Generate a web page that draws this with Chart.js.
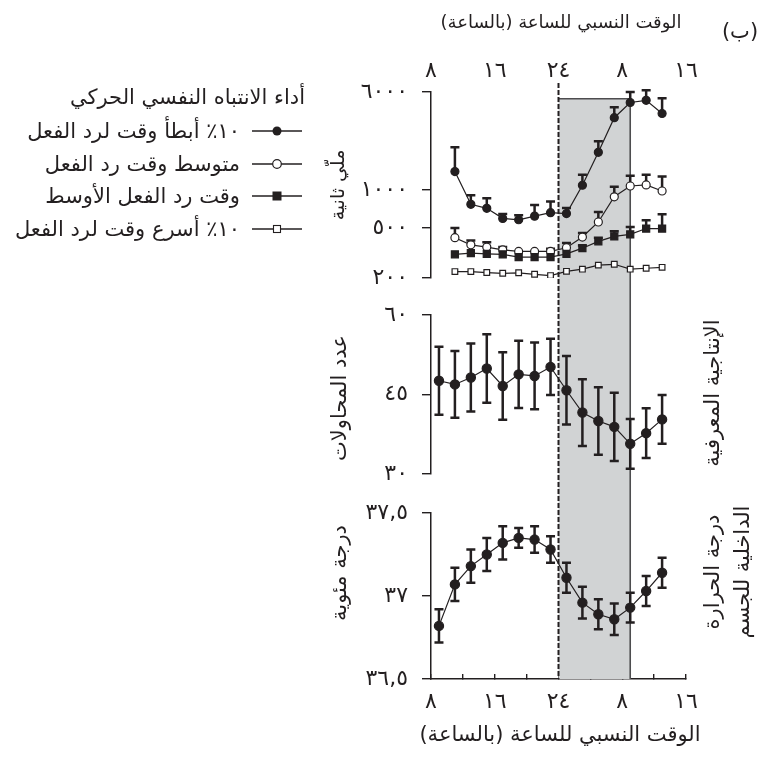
<!DOCTYPE html>
<html>
<head>
<meta charset="utf-8">
<script src="https://cdn.jsdelivr.net/npm/chart.js@4.4.1/dist/chart.umd.min.js"></script>
<style>
html, body { margin: 0; padding: 0; background: #fff; }
#wrap { position: relative; width: 770px; height: 758px; font-family: 'DejaVu Sans', sans-serif; color: #231f20; }
#wrap canvas { position: absolute; left: 0; top: 0; }
.c { position: absolute; transform: translate(-50%, -50%); white-space: nowrap; font-size: 21px; line-height: 1.2; }
.r { position: absolute; transform: translate(-50%, -50%) rotate(-90deg); white-space: nowrap; font-size: 21px; line-height: 1.45; text-align: center; }
.lg { position: absolute; right: 530px; transform: translateY(-50%); white-space: nowrap; font-size: 21px; }
.mk { position: absolute; left: 252px; transform: translateY(-50%); }
</style>
</head>
<body>
<div id="wrap">
  <canvas id="chart" width="770" height="758"></canvas>

  <div class="c" dir="rtl" style="left:740px; top:32px;">(ب)</div>
  <div class="c" dir="rtl" style="left:561px; top:22px; font-size:18px;">الوقت النسبي للساعة (بالساعة)</div>
  <div class="c" dir="rtl" style="left:560px; top:735px;">الوقت النسبي للساعة (بالساعة)</div>

  <div class="lg" dir="rtl" style="right:465px; top:97px;">أداء الانتباه النفسي الحركي</div>
  <div class="lg" dir="rtl" style="top:131px;">١٠٪ أبطأ وقت لرد الفعل</div>
  <div class="lg" dir="rtl" style="top:164px;">متوسط وقت رد الفعل</div>
  <div class="lg" dir="rtl" style="top:196px;">وقت رد الفعل الأوسط</div>
  <div class="lg" dir="rtl" style="top:229px;">١٠٪ أسرع وقت لرد الفعل</div>
  <svg class="mk" style="top:131px" width="50" height="12"><line x1="0" y1="6" x2="50" y2="6" stroke="#231f20" stroke-width="1.3"/><circle cx="25" cy="6" r="4.5" fill="#231f20"/></svg>
  <svg class="mk" style="top:164px" width="50" height="12"><line x1="0" y1="6" x2="50" y2="6" stroke="#231f20" stroke-width="1.3"/><circle cx="25" cy="6" r="4.3" fill="#fff" stroke="#231f20" stroke-width="1.2"/></svg>
  <svg class="mk" style="top:196px" width="50" height="12"><line x1="0" y1="6" x2="50" y2="6" stroke="#231f20" stroke-width="1.3"/><rect x="20.5" y="1.5" width="9" height="9" fill="#231f20"/></svg>
  <svg class="mk" style="top:229px" width="50" height="12"><line x1="0" y1="6" x2="50" y2="6" stroke="#231f20" stroke-width="1.3"/><rect x="21.5" y="2.5" width="7" height="7" fill="#fff" stroke="#231f20" stroke-width="1.1"/></svg>

  <div class="r" dir="rtl" style="left:338px; top:185px; font-size:19px;">ملّي ثانية</div>
  <div class="r" dir="rtl" style="left:339px; top:398px;">عدد المحاولات</div>
  <div class="r" dir="rtl" style="left:339px; top:573px;">درجة مئوية</div>
  <div class="r" dir="rtl" style="left:712px; top:393px;">الإنتاجية المعرفية</div>
  <div class="r" dir="rtl" style="left:727px; top:572px;">درجة الحرارة<br>الداخلية للجسم</div>
</div>

<script>
// relative clock time (hours) of each measurement
const hoursRT = [11, 13, 15, 17, 19, 21, 23, 25, 27, 29, 31, 33, 35, 37];
const hoursLong = [9, 11, 13, 15, 17, 19, 21, 23, 25, 27, 29, 31, 33, 35, 37];

// psychomotor vigilance reaction times (ms), upper error only
const slowest10 = [1400, 770, 715, 595, 580, 620, 660, 650, 1090, 1990, 3750, 4950, 5150, 4050];
const slowest10Err = [780, 140, 145, 50, 50, 140, 150, 70, 230, 445, 800, 1050, 1050, 1300];
const meanRT = [418, 367, 352, 335, 325, 325, 325, 348, 423, 557, 883, 1076, 1096, 982];
const meanRTErr = [82, 30, 33, 17, 0, 0, 16, 31, 32, 113, 178, 219, 224, 295];
const medianRT = [308, 315, 311, 308, 293, 293, 293, 311, 345, 391, 428, 444, 494, 494];
const medianRTErr = [0, 0, 0, 0, 0, 0, 0, 0, 18, 27, 43, 64, 82, 148];
const fastest10 = [225, 225, 221, 218, 220, 214, 209, 226, 235, 253, 257, 235, 239, 243];

// cognitive throughput: number of attempts
const attempts = [47.6, 46.9, 48.2, 49.9, 46.6, 48.8, 48.5, 50.2, 45.8, 41.6, 40.0, 38.9, 35.7, 37.7, 40.3];
const attemptsErr = [6.4, 6.3, 6.4, 6.45, 6.35, 6.35, 6.3, 5.3, 6.45, 6.3, 6.35, 6.45, 4.7, 4.7, 4.6];

// core body temperature (deg C)
const temperature = [36.82, 37.07, 37.18, 37.25, 37.32, 37.35, 37.34, 37.28, 37.11, 36.96, 36.89, 36.86, 36.93, 37.03, 37.14];
const temperatureErr = [0.10, 0.10, 0.10, 0.10, 0.10, 0.06, 0.08, 0.08, 0.09, 0.095, 0.09, 0.095, 0.09, 0.09, 0.09];

// ticks
const xTickHours = [8, 12, 16, 20, 24, 28, 32, 36, 40];
const xTickLabels = ['٨', '', '١٦', '', '٢٤', '', '٨', '', '١٦'];
const xTopHours = [8, 16, 24, 32, 40];
const xTopLabels = ['٨', '١٦', '٢٤', '٨', '١٦'];
const rtTicks = [200, 500, 1000, 6000];
const rtTickLabels = ['٢٠٠', '٥٠٠', '١٠٠٠', '٦٠٠٠'];
const attemptTicks = [30, 45, 60];
const attemptTickLabels = ['٣٠', '٤٥', '٦٠'];
const tempTicks = [36.5, 37, 37.5];
const tempTickLabels = ['٣٦,٥', '٣٧', '٣٧,٥'];

// shaded night (hours) and its top on the reaction-time axis (ms)
const shadeHours = [24, 33];
const shadeTopMs = 5300;

const ink = '#231f20';
const pts = (xs, ys) => xs.map((x, i) => ({x: x, y: ys[i]}));

function series(xs, ys, axis, extra) {
    return Object.assign({
        data: pts(xs, ys),
        yAxisID: axis,
        borderColor: ink,
        borderWidth: 1.2,
        pointBorderColor: ink,
        pointBackgroundColor: ink,
        pointBorderWidth: 1.2,
        pointRadius: 4,
        pointStyle: 'circle',
        tension: 0
    }, extra);
}

const shade = {
    id: 'shade',
    beforeDatasetsDraw(chart) {
        const {ctx, chartArea, scales} = chart;
        const x0 = scales.x.getPixelForValue(shadeHours[0]);
        const x1 = scales.x.getPixelForValue(shadeHours[1]);
        const yTop = scales.yRT.getPixelForValue(shadeTopMs);
        const yBot = chartArea.bottom;
        ctx.save();
        ctx.fillStyle = '#d1d3d4';
        ctx.fillRect(x0, yTop, x1 - x0, yBot - yTop);
        ctx.strokeStyle = '#4d4d4f';
        ctx.lineWidth = 1.6;
        ctx.beginPath();
        ctx.moveTo(x0, yTop);
        ctx.lineTo(x1, yTop);
        ctx.lineTo(x1, yBot);
        ctx.stroke();
        ctx.strokeStyle = ink;
        ctx.lineWidth = 2;
        ctx.setLineDash([5, 2]);
        ctx.beginPath();
        ctx.moveTo(x0, chartArea.top - 9);
        ctx.lineTo(x0, yBot);
        ctx.stroke();
        ctx.restore();
    }
};

const errorBars = {
    id: 'errorBars',
    beforeDatasetsDraw(chart) {
        const ctx = chart.ctx;
        chart.data.datasets.forEach((ds, i) => {
            if (!ds.errors) return;
            const meta = chart.getDatasetMeta(i);
            const ys = chart.scales[ds.yAxisID];
            ctx.save();
            ctx.strokeStyle = ink;
            ctx.lineWidth = 2.5;
            meta.data.forEach((p, j) => {
                const e = ds.errors[j];
                if (!e) return;
                const v = ds.data[j].y;
                const top = ys.getPixelForValue(v + e);
                const bot = ds.upperOnly ? p.y : ys.getPixelForValue(v - e);
                ctx.beginPath();
                ctx.moveTo(p.x, top);
                ctx.lineTo(p.x, bot);
                ctx.moveTo(p.x - 4.5, top);
                ctx.lineTo(p.x + 4.5, top);
                if (!ds.upperOnly) {
                    ctx.moveTo(p.x - 4.5, bot);
                    ctx.lineTo(p.x + 4.5, bot);
                }
                ctx.stroke();
            });
            ctx.restore();
        });
    }
};

const tickFont = {family: 'DejaVu Sans', size: 22};

function leftAxis(extra, weight, ticks, labels) {
    return Object.assign({
        position: 'left',
        stack: 'panels',
        stackWeight: weight,
        grid: {drawOnChartArea: false, color: ink, lineWidth: 1.4, tickLength: 9},
        border: {color: ink, width: 1.5},
        ticks: {
            color: ink, font: tickFont, padding: 14,
            callback: (v) => { const k = ticks.indexOf(v); return k < 0 ? '' : labels[k]; }
        },
        afterBuildTicks: (s) => { s.ticks = ticks.map(v => ({value: v})); },
        afterFit: (s) => { s.width = 100; }
    }, extra);
}

new Chart(document.getElementById('chart'), {
    type: 'line',
    data: {
        datasets: [
            series(hoursRT, fastest10, 'yRT', {pointBackgroundColor: '#fff', pointStyle: 'rect', pointRadius: 4}),
            series(hoursRT, medianRT, 'yRT', {pointStyle: 'rect', pointRadius: 5, errors: medianRTErr, upperOnly: true}),
            series(hoursRT, meanRT, 'yRT', {pointBackgroundColor: '#fff', errors: meanRTErr, upperOnly: true}),
            series(hoursRT, slowest10, 'yRT', {errors: slowest10Err, upperOnly: true}),
            series(hoursLong, attempts, 'yAtt', {errors: attemptsErr, pointRadius: 4.6}),
            series(hoursLong, temperature, 'yTemp', {errors: temperatureErr, pointRadius: 4.6})
        ]
    },
    options: {
        responsive: false,
        animation: false,
        layout: {padding: {left: 331, right: 84, top: 62, bottom: 39}},
        plugins: {legend: {display: false}, tooltip: {enabled: false}},
        scales: {
            x: {
                type: 'linear', position: 'bottom', min: 8, max: 40,
                grid: {drawOnChartArea: false, color: ink, lineWidth: 1.4, tickLength: -5},
                border: {color: ink, width: 1.5},
                ticks: {
                    color: ink, font: tickFont, padding: 15, autoSkip: false, maxRotation: 0,
                    callback: (v) => { const k = xTickHours.indexOf(v); return k < 0 ? '' : xTickLabels[k]; }
                },
                afterBuildTicks: (s) => { s.ticks = xTickHours.map(v => ({value: v})); },
                afterFit: (s) => { s.height = 40; }
            },
            xTop: {
                type: 'linear', position: 'top', min: 8, max: 40,
                grid: {display: false, drawTicks: false},
                border: {display: false},
                ticks: {
                    color: ink, font: tickFont, padding: 8, autoSkip: false, maxRotation: 0,
                    callback: (v) => { const k = xTopHours.indexOf(v); return k < 0 ? '' : xTopLabels[k]; }
                },
                afterBuildTicks: (s) => { s.ticks = xTopHours.map(v => ({value: v})); },
                afterFit: (s) => { s.height = 30; }
            },
            // left axes stack bottom-up in declaration order
            yTemp: leftAxis({type: 'linear', min: 36.5, max: 37.5}, 166, tempTicks, tempTickLabels),
            gap2: {type: 'linear', position: 'left', stack: 'panels', stackWeight: 39, display: false},
            yAtt: leftAxis({type: 'linear', min: 30, max: 60}, 159, attemptTicks, attemptTickLabels),
            gap1: {type: 'linear', position: 'left', stack: 'panels', stackWeight: 37, display: false},
            yRT: leftAxis({type: 'logarithmic', min: 200, max: 6000}, 186, rtTicks, rtTickLabels)
        }
    },
    plugins: [shade, errorBars]
});
</script>
</body>
</html>
